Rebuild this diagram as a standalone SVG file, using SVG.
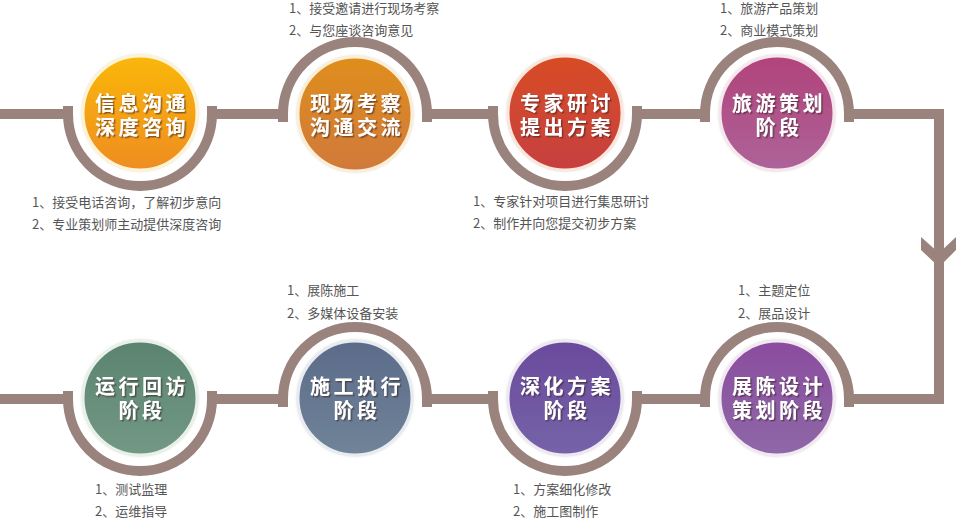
<svg xmlns="http://www.w3.org/2000/svg" width="956" height="521" viewBox="0 0 956 521">
<style>
.ln{fill:none;stroke:#9b837d;stroke-width:10;stroke-linejoin:miter;stroke-linecap:butt}
.ring{stroke-width:3}
.t{font-family:"Noto Sans CJK SC","Noto Sans",sans-serif;font-weight:700;font-size:20px;fill:#fff;text-anchor:middle;letter-spacing:3.5px;filter:url(#sh)}
.n{font-family:"Noto Sans CJK SC","Noto Sans",sans-serif;font-size:13px;fill:#555}
</style>
<defs>
<filter id="sh" x="-10%" y="-30%" width="130%" height="160%">
<feDropShadow dx="1.5" dy="1.5" stdDeviation="0.4" flood-color="#3a2020" flood-opacity="0.55"/>
</filter>
<filter id="glow" x="-10%" y="-10%" width="120%" height="120%">
<feDropShadow dx="0" dy="0" stdDeviation="1.2" flood-color="#bba" flood-opacity="0.5"/>
</filter>
<linearGradient id="g1" x1="0" y1="0" x2="0" y2="1"><stop offset="0" stop-color="#fab70a"/><stop offset="1" stop-color="#ee8d22"/></linearGradient>
<linearGradient id="g2" x1="0" y1="0" x2="0" y2="1"><stop offset="0" stop-color="#df8e1c"/><stop offset="1" stop-color="#d1793c"/></linearGradient>
<linearGradient id="g3" x1="0" y1="0" x2="0" y2="1"><stop offset="0" stop-color="#d74c26"/><stop offset="1" stop-color="#c7403f"/></linearGradient>
<linearGradient id="g4" x1="0" y1="0" x2="0" y2="1"><stop offset="0" stop-color="#b1437a"/><stop offset="1" stop-color="#ad6399"/></linearGradient>
<linearGradient id="g5" x1="0" y1="0" x2="0" y2="1"><stop offset="0" stop-color="#8b4c9e"/><stop offset="1" stop-color="#8e68a7"/></linearGradient>
<linearGradient id="g6" x1="0" y1="0" x2="0" y2="1"><stop offset="0" stop-color="#6a4a9c"/><stop offset="1" stop-color="#7563a8"/></linearGradient>
<linearGradient id="g7" x1="0" y1="0" x2="0" y2="1"><stop offset="0" stop-color="#5b6b8a"/><stop offset="1" stop-color="#708498"/></linearGradient>
<linearGradient id="g8" x1="0" y1="0" x2="0" y2="1"><stop offset="0" stop-color="#5a8370"/><stop offset="1" stop-color="#739985"/></linearGradient>
</defs>
<rect width="956" height="521" fill="#fff"/>
<g id="connectors">
<path class="ln" d="M0,114 H68 M212,114 H283 M427,114 H493 M637,114 H705 M849,114 H939 V399 H849 M705,399 H637 M493,399 H427 M283,399 H212 M68,399 H0"/>
<polygon fill="#9b837d" points="921,237 939,253 956,237 956,250 939,267 921,250"/>
<path class="ln" d="M68,106 V114 A72 72 0 0 0 212,114 V106"/>
<path class="ln" d="M283,122 V114 A72 72 0 0 1 427,114 V122"/>
<path class="ln" d="M493,106 V114 A72 72 0 0 0 637,114 V106"/>
<path class="ln" d="M705,122 V114 A72 72 0 0 1 849,114 V122"/>
<path class="ln" d="M705,407 V399 A72 72 0 0 1 849,399 V407"/>
<path class="ln" d="M493,391 V399 A72 72 0 0 0 637,399 V391"/>
<path class="ln" d="M283,407 V399 A72 72 0 0 1 427,399 V407"/>
<path class="ln" d="M68,391 V399 A72 72 0 0 0 212,399 V391"/>
</g>
<g id="node1">
<circle cx="140" cy="113" r="57" fill="url(#g1)" stroke="#fff3d2" class="ring" filter="url(#glow)"/>
<text class="t" x="142" y="111">信息沟通<tspan x="142" dy="24">深度咨询</tspan></text>
<text class="n" x="32" y="207">1、接受电话咨询，了解初步意向</text>
<text class="n" x="32" y="229">2、专业策划师主动提供深度咨询</text>
</g>
<g id="node2">
<circle cx="355" cy="114" r="57" fill="url(#g2)" stroke="#fbeed6" class="ring" filter="url(#glow)"/>
<text class="t" x="357" y="111">现场考察<tspan x="357" dy="24">沟通交流</tspan></text>
<text class="n" x="289" y="13">1、接受邀请进行现场考察</text>
<text class="n" x="289" y="35">2、与您座谈咨询意见</text>
</g>
<g id="node3">
<circle cx="565" cy="113" r="57" fill="url(#g3)" stroke="#fae6dc" class="ring" filter="url(#glow)"/>
<text class="t" x="567" y="111">专家研讨<tspan x="567" dy="24">提出方案</tspan></text>
<text class="n" x="473" y="206">1、专家针对项目进行集思研讨</text>
<text class="n" x="473" y="228">2、制作并向您提交初步方案</text>
</g>
<g id="node4">
<circle cx="777" cy="113" r="57" fill="url(#g4)" stroke="#f6e6ee" class="ring" filter="url(#glow)"/>
<text class="t" x="779" y="111">旅游策划<tspan x="779" dy="24">阶段</tspan></text>
<text class="n" x="720" y="13">1、旅游产品策划</text>
<text class="n" x="720" y="35">2、商业模式策划</text>
</g>
<g id="node5">
<circle cx="777" cy="398" r="57" fill="url(#g5)" stroke="#f2e8f3" class="ring" filter="url(#glow)"/>
<text class="t" x="779" y="394">展陈设计<tspan x="779" dy="24">策划阶段</tspan></text>
<text class="n" x="738" y="295">1、主题定位</text>
<text class="n" x="738" y="318">2、展品设计</text>
</g>
<g id="node6">
<circle cx="565" cy="398" r="57" fill="url(#g6)" stroke="#eee8f3" class="ring" filter="url(#glow)"/>
<text class="t" x="567" y="394">深化方案<tspan x="567" dy="24">阶段</tspan></text>
<text class="n" x="513" y="494">1、方案细化修改</text>
<text class="n" x="513" y="516">2、施工图制作</text>
</g>
<g id="node7">
<circle cx="355" cy="398" r="57" fill="url(#g7)" stroke="#e8ecf2" class="ring" filter="url(#glow)"/>
<text class="t" x="357" y="394">施工执行<tspan x="357" dy="24">阶段</tspan></text>
<text class="n" x="287" y="295">1、展陈施工</text>
<text class="n" x="287" y="318">2、多媒体设备安装</text>
</g>
<g id="node8">
<circle cx="140" cy="398" r="57" fill="url(#g8)" stroke="#e8f0ea" class="ring" filter="url(#glow)"/>
<text class="t" x="142" y="394">运行回访<tspan x="142" dy="24">阶段</tspan></text>
<text class="n" x="95" y="494">1、测试监理</text>
<text class="n" x="95" y="516">2、运维指导</text>
</g>
</svg>
